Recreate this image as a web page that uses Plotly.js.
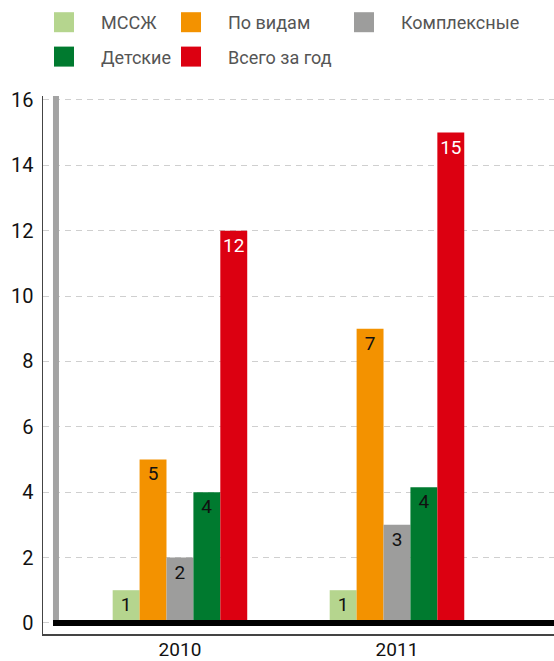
<!DOCTYPE html>
<html>
<head>
<meta charset="utf-8">
<script src="https://cdn.plot.ly/plotly-3.0.1.min.js"></script>
<style>html,body{margin:0;padding:0;background:#fff;}</style>
</head>
<body>
<div id="chart" style="width:554px;height:661px;"></div>
<script>
// ---- data ----
var years = ["2010", "2011"];
var seriesNames = ["МССЖ", "По видам", "Комплексные", "Детские", "Всего за год"];
var seriesColors = ["#b5d58e", "#f39200", "#9d9d9c", "#007a2f", "#dc0011"];
// bar heights as drawn
var mssjValues = [1, 1];
var vidamValues = [5, 9];
var complexValues = [2, 3];
var childValues = [4, 4.15];
var totalValues = [12, 15];
// labels printed on the bars
var mssjLabels = ["1", "1"];
var vidamLabels = ["5", "7"];
var complexLabels = ["2", "3"];
var childLabels = ["4", "4"];
var totalLabels = ["12", "15"];
var yTicks = [0, 2, 4, 6, 8, 10, 12, 14, 16];

var values = [mssjValues, vidamValues, complexValues, childValues, totalValues];
var labels = [mssjLabels, vidamLabels, complexLabels, childLabels, totalLabels];
var legendIds = ["legend", "legend2", "legend3", "legend", "legend2"];
var labelColors = ["#111", "#111", "#111", "#111", "#fff"];

var FONT = "Roboto, 'Noto Sans', sans-serif";

var traces = seriesNames.map(function (name, i) {
  return {
    type: "bar",
    name: name,
    x: years,
    y: values[i],
    text: labels[i],
    textposition: "inside",
    insidetextanchor: "end",
    constraintext: "none",
    textangle: 0,
    textfont: {family: FONT, size: 19, color: labelColors[i]},
    marker: {color: seriesColors[i], line: {width: 0}},
    legend: legendIds[i],
    legendgroup: "g" + i,
    hoverinfo: "skip"
  };
});

var TEXT_OFFSET = 74; // text start inside a legend item with itemwidth 64
function legendAt(textXpx, ypx) {
  return {
    xref: "container", yref: "container",
    x: (textXpx - TEXT_OFFSET) / 554, y: 1 - ypx / 661,
    xanchor: "left", yanchor: "top",
    orientation: "v",
    itemwidth: 64,
    bgcolor: "rgba(0,0,0,0)", borderwidth: 0,
    tracegroupgap: 8,
    font: {family: FONT, size: 18, color: "#555"}
  };
}

var layout = {
  width: 554, height: 661,
  margin: {l: 43, r: 0, t: 96, b: 27, pad: 0, autoexpand: false},
  paper_bgcolor: "#fff", plot_bgcolor: "#fff",
  barmode: "group", bargap: 0.38, bargroupgap: 0,
  showlegend: true,
  legend: legendAt(101, 4),
  legend2: legendAt(228, 4),
  legend3: legendAt(401, 4),
  xaxis: {
    type: "category",
    range: [-0.631, 1.7235],
    showgrid: false, zeroline: false,
    showline: true, linecolor: "#444", linewidth: 1.5,
    ticks: "", ticklabelstandoff: -2,
    tickfont: {family: FONT, size: 19, color: "#111"},
    fixedrange: true
  },
  yaxis: {
    range: [-0.34, 16.12],
    tickvals: yTicks,
    ticktext: yTicks.map(String),
    showgrid: true, gridcolor: "#cfcfcf", gridwidth: 1, griddash: "6px,5px",
    zeroline: false,
    showline: true, linecolor: "#444", linewidth: 1.5,
    ticks: "", ticklabelstandoff: 4,
    tickfont: {family: FONT, size: 20, color: "#111"},
    fixedrange: true
  },
  shapes: [
    {type: "line", xref: "paper", yref: "paper", x0: 0.0254, x1: 0.0254, y0: 0.0204, y1: 1,
     line: {color: "#a3a3a3", width: 6}, layer: "above"},
    {type: "line", xref: "paper", yref: "y", x0: 0.0196, x1: 1, y0: 0, y1: 0,
     line: {color: "#000", width: 6}, layer: "above"}
  ]
};

// enlarge the legend colour squares to 20x20 (centre stays where Plotly puts it)
function bigSwatches() {
  document.querySelectorAll("g.legendpoints path").forEach(function (p) {
    p.setAttribute("d", "M10,10H-10V-10H10Z");
  });
}

var gd = document.getElementById("chart");
Plotly.newPlot(gd, traces, layout, {displayModeBar: false, staticPlot: true}).then(function () {
  bigSwatches();
  gd.on("plotly_afterplot", bigSwatches);
  setTimeout(bigSwatches, 50);
  setTimeout(bigSwatches, 300);
  setTimeout(bigSwatches, 1000);
});
</script>
</body>
</html>
